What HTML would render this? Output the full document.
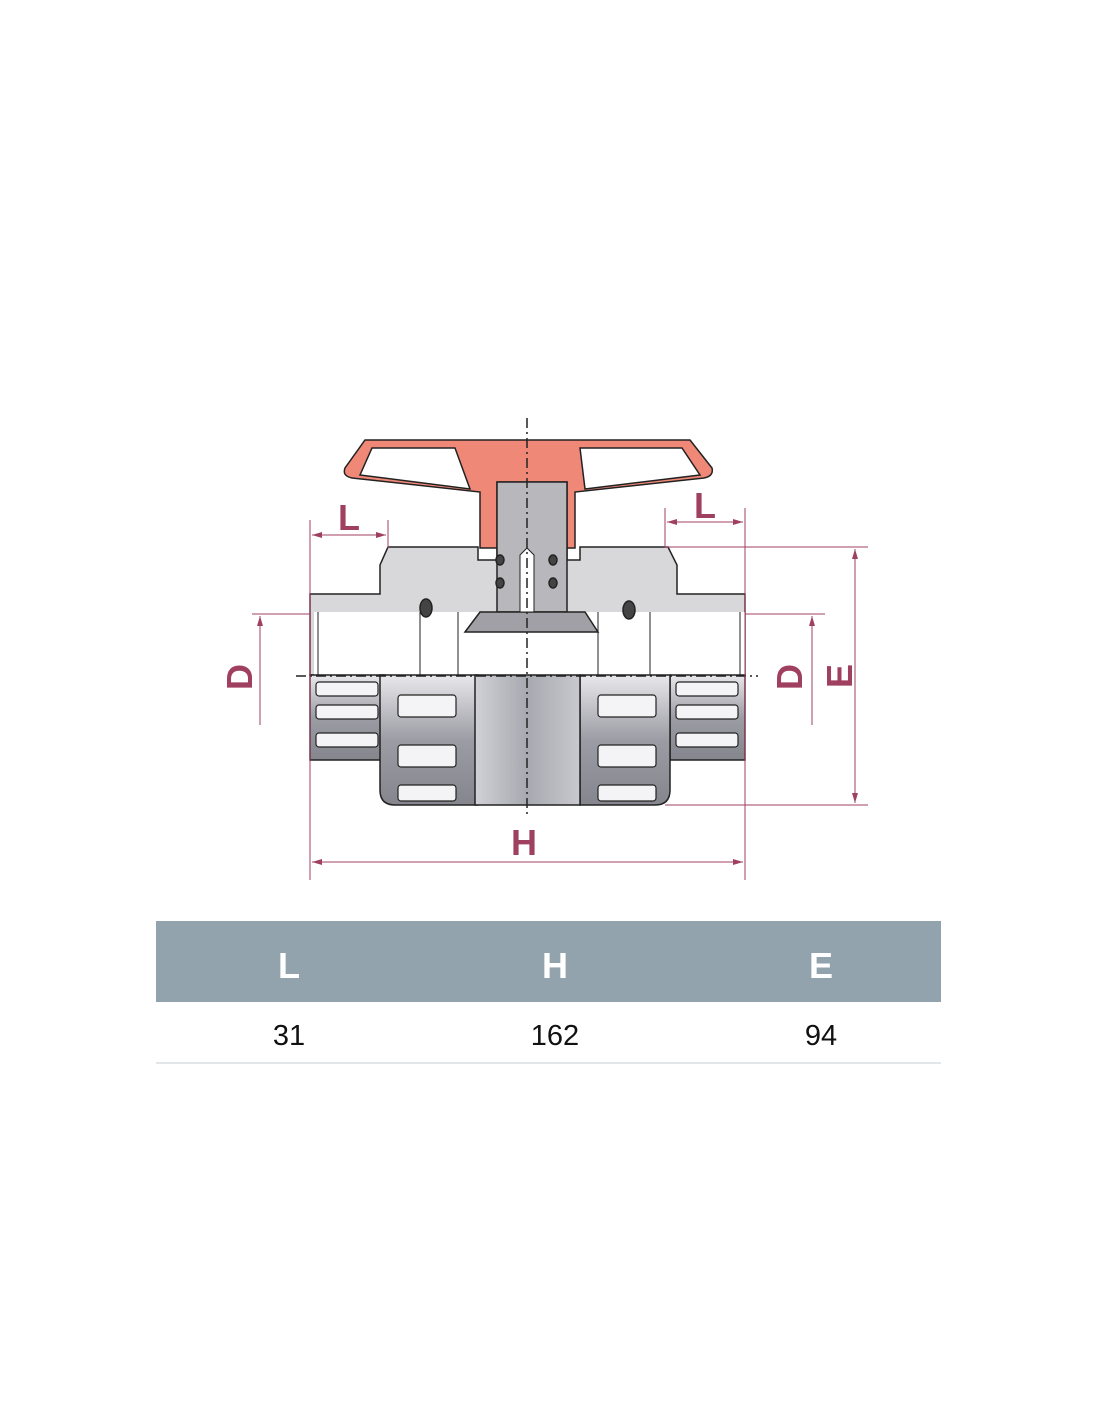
<!DOCTYPE html>
<html><head><style>
html,body{margin:0;padding:0;background:#fff;width:1100px;height:1422px;overflow:hidden;font-family:"Liberation Sans",sans-serif}
</style></head><body>
<svg width="1100" height="1422" xmlns="http://www.w3.org/2000/svg" style="position:absolute;left:0;top:0">
<defs>
<linearGradient id="g" x1="0" y1="0" x2="0" y2="1">
<stop offset="0" stop-color="#e8e8ec"/><stop offset="0.5" stop-color="#9c9ca4"/><stop offset="1" stop-color="#85858d"/></linearGradient>
<linearGradient id="gc" x1="0" y1="0" x2="1" y2="0">
<stop offset="0" stop-color="#d0d0d6"/><stop offset="0.5" stop-color="#a8a8b0"/><stop offset="1" stop-color="#c8c8ce"/></linearGradient>
<marker id="a" viewBox="0 0 10 6" refX="10" refY="3" markerWidth="10" markerHeight="6" orient="auto-start-reverse" markerUnits="userSpaceOnUse"><path d="M0 0 L10 3 L0 6 Z" fill="#a04060"/></marker>
</defs>
<g stroke="#222" stroke-width="1.5">
<path d="M365 440 L690 440 L712 468 Q714 476 704 478 L575 492 L575 548 L480 548 L480 492 L352 478 Q342 476 345 468 Z" fill="#f08878"/>
<path d="M372 448 L455 448 L470 489 L360 475 Z M580 448 L682 448 L700 475 L585 489 Z" fill="#fff"/>
<path d="M388 547 L478 547 L478 560 L497 560 L497 482 L567 482 L567 560 L580 560 L580 547 L668 547 L677 565 L677 594 L745 594 L745 675 L310 675 L310 594 L380 594 L380 565 Z" fill="#d8d8da"/>
<rect x="497" y="482" width="70" height="130" fill="#b8b8bc"/>
<rect x="314" y="612" width="431" height="63" fill="#fff" stroke="none"/>
<path d="M318 612 V675 M420 612 V675 M458 612 V675 M598 612 V675 M650 612 V675 M740 612 V675" fill="none" stroke-width="1"/>
<path d="M465 632 L480 612 L585 612 L598 632 Z" fill="#a0a0a6"/>
<ellipse cx="426" cy="608" rx="6" ry="9" fill="#444"/>
<ellipse cx="629" cy="610" rx="6" ry="9" fill="#444"/>
<ellipse cx="500" cy="560" rx="4" ry="5" fill="#444"/><ellipse cx="500" cy="583" rx="4" ry="5" fill="#444"/>
<ellipse cx="553" cy="560" rx="4" ry="5" fill="#444"/><ellipse cx="553" cy="583" rx="4" ry="5" fill="#444"/>
<path d="M520 555 L527 548 L534 555 L534 612 L520 612 Z" fill="#fff" stroke-width="1"/>
<rect x="310" y="675" width="75" height="85" fill="url(#g)"/>
<rect x="670" y="675" width="75" height="85" fill="url(#g)"/>
<path d="M380 675 L478 675 L478 805 L395 805 Q380 805 380 790 Z" fill="url(#g)"/>
<path d="M580 675 L670 675 L670 790 Q670 805 655 805 L580 805 Z" fill="url(#g)"/>
<rect x="475" y="675" width="105" height="130" fill="url(#gc)"/>
<g fill="#f4f4f6" stroke-width="1.2">
<rect x="316" y="682" width="62" height="14" rx="3"/><rect x="316" y="705" width="62" height="14" rx="3"/><rect x="316" y="733" width="62" height="14" rx="3"/>
<rect x="676" y="682" width="62" height="14" rx="3"/><rect x="676" y="705" width="62" height="14" rx="3"/><rect x="676" y="733" width="62" height="14" rx="3"/>
<rect x="398" y="695" width="58" height="22" rx="3"/><rect x="398" y="745" width="58" height="22" rx="3"/><rect x="398" y="785" width="58" height="16" rx="3"/>
<rect x="598" y="695" width="58" height="22" rx="3"/><rect x="598" y="745" width="58" height="22" rx="3"/><rect x="598" y="785" width="58" height="16" rx="3"/>
</g>
</g>
<g stroke="#222" stroke-width="1.5" stroke-dasharray="10,4,2,4" fill="none">
<line x1="527" y1="418" x2="527" y2="815"/>
<line x1="296" y1="676" x2="758" y2="676"/>
</g>
<g stroke="#a04060" stroke-width="1" fill="none">
<line x1="310" y1="520" x2="310" y2="880"/><line x1="745" y1="508" x2="745" y2="880"/>
<line x1="388" y1="520" x2="388" y2="548"/><line x1="665" y1="508" x2="665" y2="548"/>
<line x1="312" y1="535" x2="386" y2="535" marker-start="url(#a)" marker-end="url(#a)"/>
<line x1="667" y1="522" x2="743" y2="522" marker-start="url(#a)" marker-end="url(#a)"/>
<line x1="312" y1="862" x2="743" y2="862" marker-start="url(#a)" marker-end="url(#a)"/>
<line x1="252" y1="614" x2="310" y2="614"/><line x1="260" y1="616" x2="260" y2="725" marker-start="url(#a)"/>
<line x1="745" y1="614" x2="825" y2="614"/><line x1="812" y1="616" x2="812" y2="725" marker-start="url(#a)"/>
<line x1="665" y1="547" x2="868" y2="547"/><line x1="665" y1="805" x2="868" y2="805"/>
<line x1="855" y1="549" x2="855" y2="803" marker-start="url(#a)" marker-end="url(#a)"/>
</g>
<g fill="#a04060" font-family="Liberation Sans" font-weight="bold" font-size="36">
<text x="338" y="530">L</text><text x="694" y="518">L</text>
<text x="511" y="855">H</text>
<text transform="translate(252,690) rotate(-90)">D</text>
<text transform="translate(802,690) rotate(-90)">D</text>
<text transform="translate(852,688) rotate(-90)">E</text>
</g>
<rect x="156" y="921" width="785" height="81" fill="#93a3ad"/>
<g fill="#fff" font-weight="bold" font-size="36" text-anchor="middle">
<text x="289" y="978">L</text><text x="555" y="978">H</text><text x="821" y="978">E</text>
</g>
<g fill="#111" font-size="29" text-anchor="middle">
<text x="289" y="1045">31</text><text x="555" y="1045">162</text><text x="821" y="1045">94</text>
</g>
<rect x="156" y="1062" width="785" height="2" fill="#e2e6e8"/>
</svg>
</body></html>
